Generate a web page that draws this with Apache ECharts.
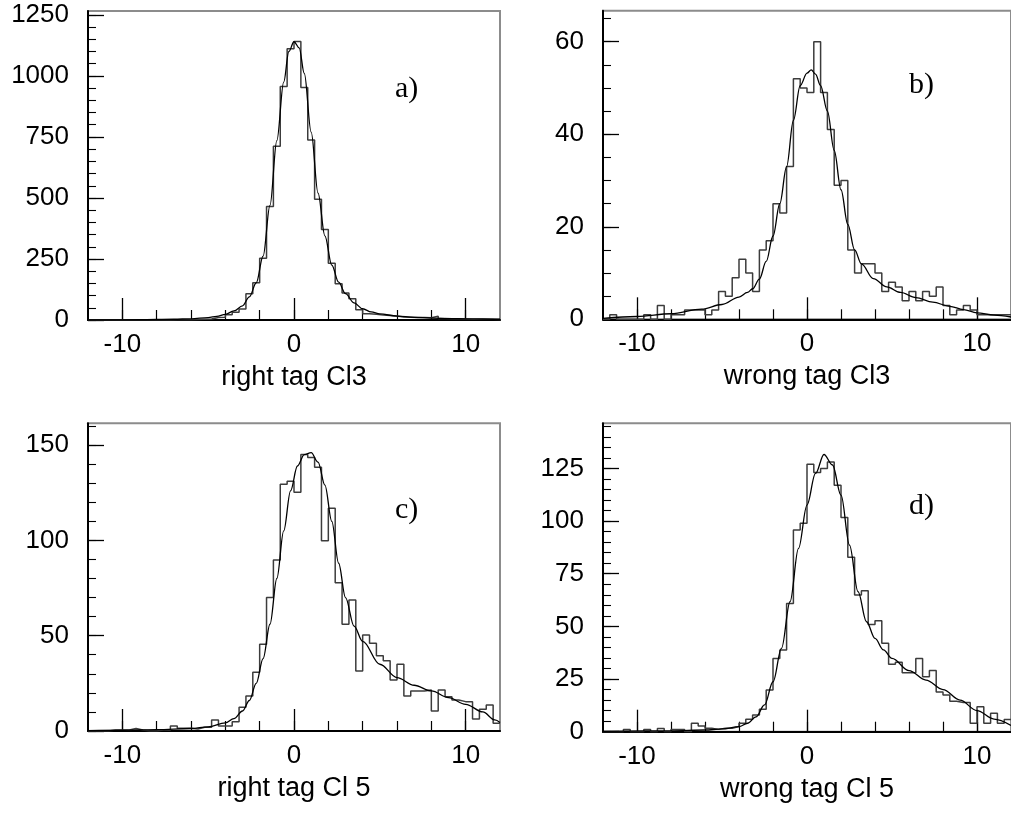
<!DOCTYPE html>
<html>
<head>
<meta charset="utf-8">
<script src="https://cdn.jsdelivr.net/npm/echarts@6/dist/echarts.min.js"></script>
<style>
  html, body { margin: 0; padding: 0; background: #fff; }
  #chart { width: 1011px; height: 817px; }
</style>
</head>
<body>
<div id="chart"></div>
<script>
// Histogram binning shared by the four panels: 60 bins of 0.4 from -12 to 12
const BIN_LO = -12;
const BIN_W = 0.4;

// x axis ticks
const xMajorTicks = [-10, 0, 10];
const xMinorTicks = [-10, -8, -6, -4, -2, 0, 2, 4, 6, 8, 10];

// a) right tag Cl3
const countsA = [0,0,0,0,0,0,0,0,0,0,1,0,1,1,1,2,3,4,10,11,21,32,45,108,153,253,465,712,957,1111,
                 1141,953,737,495,371,232,149,111,87,42,26,24,20,18,16,12,11,10,10,9,15,6,5,5,4,3,3,3,3,2];
const fitAX = [-12,-9,-7,-6,-5,-4.5,-4,-3.5,-3,-2.6,-2.2,-1.8,-1.4,-1,-0.6,-0.3,0,0.3,0.6,1,1.4,1.8,2.2,2.6,3,3.5,4,4.5,5,6,7,8,9,10,11,12];
const fitAY = [0,1,3,5,10,15,23,37,58,95,152,262,470,735,975,1100,1140,1115,1010,770,520,345,225,155,108,70,46,33,25,16,11,8,6,5,4,3];
const yTicksA = [0, 250, 500, 750, 1000, 1250];

// b) wrong tag Cl3
const countsB = [0,1,0,0,0,0,1,0,3,0,1,1,2,2,2,1,2,6,5,9,13,10,6,15,17,25,23,33,52,50,
                 49,60,49,41,29,30,15,10,12,12,10,6,8,7,4,6,4,6,5,7,3,1,2,3,2,1,1,1,1,1];
const fitBX = [-12,-10,-8,-6.2,-5,-4,-3.5,-3.2,-2.8,-2.4,-2,-1.6,-1.2,-0.8,-0.4,0,0.25,0.5,0.8,1.2,1.6,2,2.4,2.8,3.2,3.9,4.7,5.5,6.4,7.4,8.4,9.2,10,11,12];
const fitBY = [0.2,0.6,1.2,2.2,3.2,4.8,5.8,6.6,8.7,12.5,18,25,33,43,50.5,53.2,53.9,53,50.5,45,36.5,28,20.5,15,12,8.8,7,5.8,4.7,3.7,2.8,2.1,1.4,0.9,0.5];
const yTicksB = [0, 20, 40, 60];

// c) right tag Cl 5
const countsC = [0,0,0,0.5,0.5,0.5,1.3,0.5,0,0,0.5,0.5,2.6,1.4,1.4,1,2,2,5.8,2.6,2.6,4.9,12.4,18.4,30.8,45.5,70,89.7,129.4,131,
                 125.2,145,143.4,138.3,99.8,116.8,77.8,56,68.7,31.5,50.3,46,39.5,36.9,26.7,35,18.4,21,21,21.5,10.5,21.5,18,16.3,15.4,15.4,6.3,11.4,13.6,4];
const fitCX = [-12,-10,-8,-6,-5,-4,-3.5,-3,-2.6,-2.2,-1.8,-1.4,-1,-0.6,-0.2,0.2,0.6,1,1.4,1.8,2.2,2.6,3,3.5,4,5,6,7,8,9,10,11,11.7,12];
const fitCY = [0.2,0.4,0.7,1.3,2.2,4.3,6.5,10.5,16,25,38,56,80,105,126,139,145,146,141,129,110,88,70,55,47,35,28,24,21,17.5,14,10,5.8,4.5];
const yTicksC = [0, 50, 100, 150];

// d) wrong tag Cl 5
const countsD = [0,0,0,1,0,0,1,0,1.5,0,1,1,0,4,2.7,1.6,1.1,1.6,1.6,2.4,4,5.9,7.9,10.6,19.8,34.8,38.8,60.9,95.7,98.9,
                 127,123,125,128,117,101.7,82.8,64.9,66.9,50.9,52.7,42,32,33,28,28,34.8,26.1,29,18.8,17.4,14.5,13.9,13.9,4,11.9,4,8.8,4,5.8];
const fitDX = [-12,-8,-6,-5,-4,-3.5,-3,-2.5,-2,-1.5,-1,-0.5,0,0.5,1,1.5,2,2.5,3,3.5,4,4.5,5,6,7,8,9,10,11,12];
const fitDY = [0.2,0.4,0.8,1.3,2.4,4,7,12.7,23.7,39.6,61.7,87,107.6,122.6,131.6,126.6,112.3,88.6,66.5,52.2,44.3,38.8,34.8,29,24.5,20,15,10,6,3];
const yTicksD = [0, 25, 50, 75, 100, 125];

const xTitles = ['right tag Cl3', 'wrong tag Cl3', 'right tag Cl 5', 'wrong tag Cl 5'];
const tags = ['a)', 'b)', 'c)', 'd)'];

// panel frames (pixels) and vertical extents
const panels = [
  { rect: { left: 88,  top: 11,    width: 412, height: 309   }, yMax: 1266, yMinor: 50, yTicks: yTicksA, counts: countsA, fx: fitAX, fy: fitAY, tagAt: [395, 90] },
  { rect: { left: 603, top: 10.7,  width: 412, height: 308.6 }, yMax: 66.7, yMinor: 5,  yTicks: yTicksB, counts: countsB, fx: fitBX, fy: fitBY, tagAt: [909, 86] },
  { rect: { left: 88,  top: 423.3, width: 412, height: 307.7 }, yMax: 161.4, yMinor: 10, yTicks: yTicksC, counts: countsC, fx: fitCX, fy: fitCY, tagAt: [395, 511] },
  { rect: { left: 603, top: 423.3, width: 412, height: 308.4 }, yMax: 146.4, yMinor: 5, yTicks: yTicksD, counts: countsD, fx: fitDX, fy: fitDY, tagAt: [909, 507] }
];

const FONT = 'Liberation Sans, Arial, Helvetica, sans-serif';
const SERIF = 'Liberation Serif, Times New Roman, serif';
const plain = v => String(v);

function steps(lo, hi, step) {
  const out = [];
  for (let v = lo; v <= hi + 1e-9; v += step) out.push(+v.toFixed(6));
  return out;
}

const grid = [], xAxis = [], yAxis = [], series = [], graphic = [];

panels.forEach((p, i) => {
  grid.push(Object.assign({ show: true, borderColor: '#8c8c8c', borderWidth: 2, backgroundColor: 'transparent' }, p.rect));

  // major x ticks + labels + axis title
  xAxis.push({
    type: 'value', gridIndex: i, position: 'bottom', min: -12, max: 12,
    axisLine: { show: true, onZero: false, lineStyle: { color: '#000', width: 2 } },
    axisTick: { show: true, inside: true, length: 22, customValues: xMajorTicks, lineStyle: { color: '#000', width: 1.3 } },
    axisLabel: { show: true, customValues: xMajorTicks, formatter: plain, margin: 12, color: '#000', fontSize: 26, fontFamily: FONT },
    splitLine: { show: false },
    name: xTitles[i], nameLocation: 'middle', nameGap: 44,
    nameTextStyle: { color: '#000', fontSize: 27, fontFamily: FONT }
  });
  // minor x ticks
  xAxis.push({
    type: 'value', gridIndex: i, position: 'bottom', min: -12, max: 12,
    axisLine: { show: false, onZero: false },
    axisTick: { show: true, inside: true, length: 10, customValues: xMinorTicks, lineStyle: { color: '#000', width: 1.2 } },
    axisLabel: { show: false }, splitLine: { show: false }
  });

  // major y ticks + labels
  yAxis.push({
    type: 'value', gridIndex: i, position: 'left', min: 0, max: p.yMax,
    axisLine: { show: true, onZero: false, lineStyle: { color: '#000', width: 2 } },
    axisTick: { show: true, inside: true, length: 16, customValues: p.yTicks, lineStyle: { color: '#000', width: 1.3 } },
    axisLabel: { show: true, customValues: p.yTicks, formatter: plain, margin: 19, color: '#000', fontSize: 26, fontFamily: FONT },
    splitLine: { show: false }
  });
  // minor y ticks
  yAxis.push({
    type: 'value', gridIndex: i, position: 'left', min: 0, max: p.yMax,
    axisLine: { show: false, onZero: false },
    axisTick: { show: true, inside: true, length: 8, customValues: steps(0, p.yMax, p.yMinor), lineStyle: { color: '#000', width: 1.1 } },
    axisLabel: { show: false }, splitLine: { show: false }
  });

  const hist = p.counts.map((v, k) => [BIN_LO + k * BIN_W, v]);
  hist.push([BIN_LO + p.counts.length * BIN_W, p.counts[p.counts.length - 1]]);

  series.push({
    type: 'line', xAxisIndex: 2 * i, yAxisIndex: 2 * i, data: hist, step: 'end',
    symbol: 'none', silent: true, animation: false, clip: true,
    lineStyle: { color: '#3c3c3c', width: 1.5 }
  });
  series.push({
    type: 'line', xAxisIndex: 2 * i, yAxisIndex: 2 * i,
    data: p.fx.map((x, j) => [x, p.fy[j]]),
    smooth: 0.35, smoothMonotone: 'x', symbol: 'none', silent: true, animation: false, clip: true,
    lineStyle: { color: '#000', width: 1.3 }
  });

  graphic.push({
    type: 'text', left: p.tagAt[0], top: p.tagAt[1] - 16,
    style: { text: tags[i], fill: '#000', font: '30px ' + SERIF }
  });
});

const chart = echarts.init(document.getElementById('chart'), null, { renderer: 'canvas' });
chart.setOption({
  backgroundColor: '#fff',
  animation: false,
  grid, xAxis, yAxis, series, graphic
});
</script>
</body>
</html>
